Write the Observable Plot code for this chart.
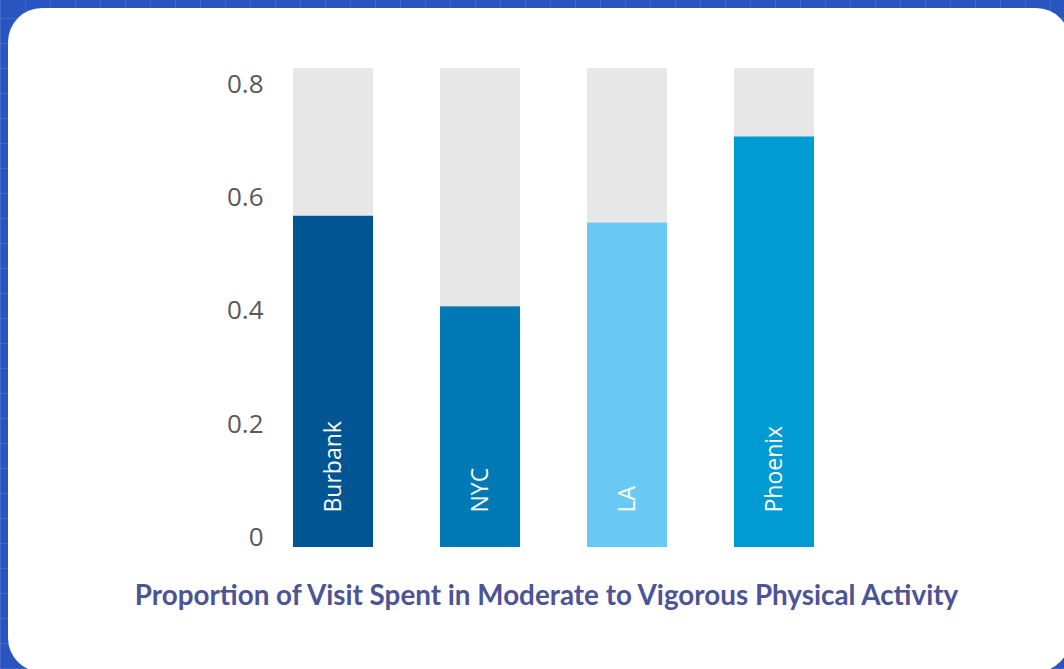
<!DOCTYPE html>
<html>
<head>
<meta charset="utf-8">
<script src="https://cdn.jsdelivr.net/npm/d3@7"></script>
<script src="https://cdn.jsdelivr.net/npm/@observablehq/plot@0.6"></script>
<style>
  html, body { margin: 0; padding: 0; }
  body {
    width: 1064px; height: 669px; overflow: hidden; position: relative;
    background-color: #2a55c0;
    background-image:
      repeating-linear-gradient(90deg, rgba(255,255,255,0.10) 0 1px, transparent 1px 25px),
      repeating-linear-gradient(0deg, rgba(255,255,255,0.10) 0 1px, transparent 1px 25px);
  }
  #card {
    position: absolute; left: 8px; top: 8px; width: 1062px; height: 664px;
    background: #ffffff; border-radius: 34px;
  }
  #chart { position: absolute; left: 0; top: 0; }
  #title {
    position: absolute; left: 0; width: 1093px; top: 578px; text-align: center;
    font-family: Lato, "Open Sans", sans-serif; font-weight: 700; font-size: 27.8px;
    color: #4d5395; white-space: nowrap;
  }
</style>
</head>
<body>
<div id="card"></div>
<div id="chart"></div>
<div id="title"></div>
<script>
const cities = ["Burbank", "NYC", "LA", "Phoenix"];
const proportions = [0.585, 0.425, 0.573, 0.725];
const backgroundMax = [0.846, 0.846, 0.846, 0.846];
const barColors = ["#005592", "#0079b5", "#6ac9f2", "#009bd2"];
const yTicks = [0, 0.2, 0.4, 0.6, 0.8];
const titleText = "Proportion of Visit Spent in Moderate to Vigorous Physical Activity";

const data = cities.map((c, i) => ({city: c, value: proportions[i], back: backgroundMax[i], color: barColors[i]}));

const plot = Plot.plot({
  width: 1064,
  height: 570,
  marginLeft: 292,
  marginRight: 250,
  marginTop: 68,
  marginBottom: 23,
  style: {background: "transparent", fontFamily: "'Open Sans', sans-serif"},
  x: {domain: cities, range: [292, 814], paddingInner: 0.457, paddingOuter: 0, axis: null},
  y: {domain: [0, 0.846], range: [547, 68], axis: null},
  marks: [
    Plot.barY(data, {x: "city", y: "back", fill: "#e7e7e7"}),
    Plot.barY(data, {x: "city", y: "value", fill: "color"}),
    Plot.axisY({ticks: yTicks, tickSize: 0, tickPadding: 29, fontSize: 26, fill: "#595959", dy: -10, label: null, tickFormat: d3.format("")}),
    Plot.text(data, {x: "city", y: 0, text: "city", rotate: -90, textAnchor: "start", lineAnchor: "middle", dy: -35, fill: "#ffffff", fontSize: 23})
  ]
});
document.getElementById("chart").appendChild(plot);
document.getElementById("title").textContent = titleText;
</script>
</body>
</html>
